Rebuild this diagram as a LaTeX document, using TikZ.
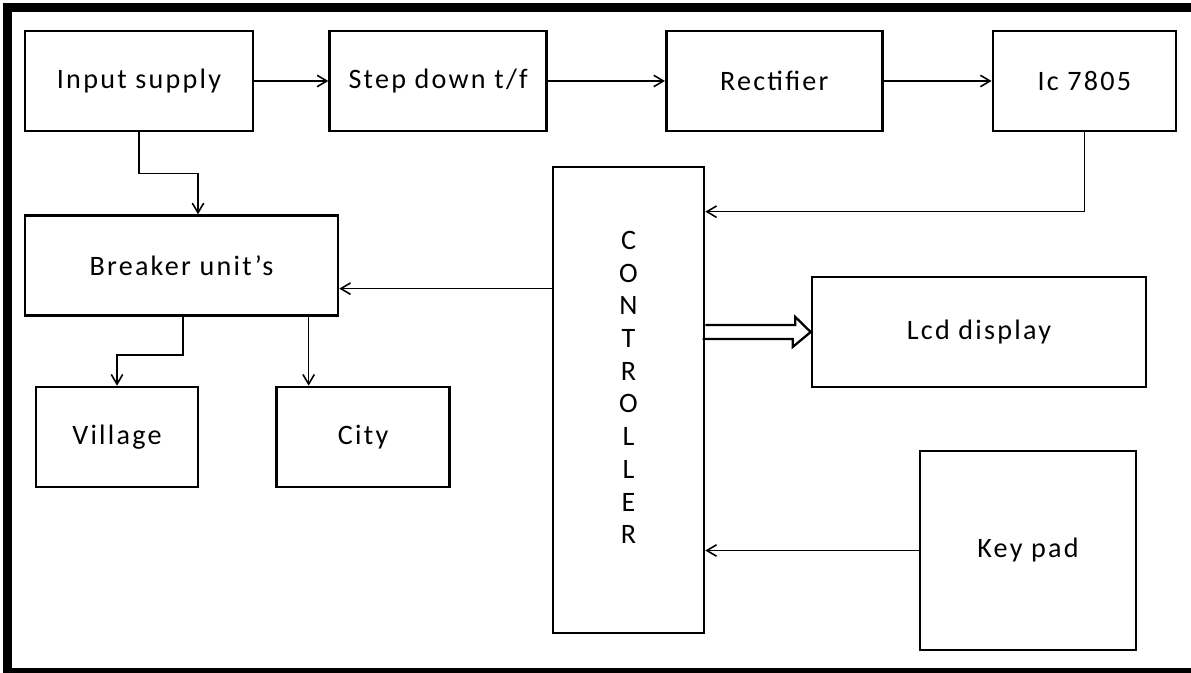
\documentclass[tikz,border=0pt]{standalone}
\usepackage{fontspec}
\usepackage{tikz}
\usetikzlibrary{arrows.meta}
\usetikzlibrary{positioning}

\newfontfamily\blkfont[LetterSpace=8]{Carlito}

\begin{document}
\begin{tikzpicture}[thin,node distance=1.5cm,
	  blk/.style={rectangle,draw,line width=1.5pt,fill=white,inner sep=0pt,minimum height=2cm,font=\blkfont\fontsize{16}{18.6}\selectfont},
	  arr/.style={-{Straight Barb[length=5.5pt,width=6.5pt]},line width=0.9pt},
	  dbl/.style={line width=1.3pt,line join=miter},
	  frame/.style={line width=0.18cm}]
	  \useasboundingbox (0,0) rectangle (23.82,-13.46);
	  \draw[frame] (23.9,-0.16) -- (0.15,-0.16) -- (0.15,-13.45) -- (23.9,-13.45);
%
	  \node[blk, minimum width=4.56cm] (inp) at (2.78,-1.62) {Input supply};
	  \node[blk, minimum width=4.34cm] (stp) [right=1.48cm of inp] {Step down t/f};
	  \node[blk, minimum width=4.32cm] (rct) [right=2.34cm of stp] {Rectifier};
	  \node[blk, minimum width=3.66cm] (ic) [right=2.16cm of rct] {Ic 7805};
	  \node[blk, minimum width=6.26cm] (brk) [below right=1.64cm and 0cm of inp.south west] {Breaker unit’s};
	  \node[blk, minimum width=3.24cm] (vil) at (2.34,-8.74) {Village};
	  \node[blk, minimum width=3.46cm] (cty) [right=1.52cm of vil] {City};
	  \node[blk, minimum width=3.02cm, minimum height=9.32cm] (ctrl) at (12.57,-8.0)
	    [label={[yshift=0.25cm,align=center,font=\blkfont\fontsize{16}{18.6}\selectfont]center:C\\O\\N\\T\\R\\O\\L\\L\\E\\R}] {};
	  \node[blk, minimum width=6.68cm, minimum height=2.2cm] (lcd) at (19.58,-6.64) {Lcd display};
	  \node[blk, minimum width=4.32cm, minimum height=3.98cm] (kpd) at (20.56,-11.01) {Key pad};
%
	  \coordinate (brkin) at ([yshift=-0.46cm]brk.east);
	  \coordinate (ctyin) at ([xshift=-1.09cm]cty.north);
	  \coordinate (lcdin) at (ctrl.east |- lcd.west);
%
	  \draw[arr] (inp) -- (stp);
	  \draw[arr] (stp) -- (rct);
	  \draw[arr] (rct) -- (ic);
	  \draw[arr] (ic.south) |- ([yshift=-0.92cm]ctrl.north east);
	  \draw[arr] (ctrl.west |- brkin) -- (brkin);
	  \draw[arr] (inp.south) -- ++(0,-0.82) -| ([xshift=0.33cm]brk.north);
	  \draw[arr] ([xshift=0.03cm]brk.south) -- ++(0,-0.76) -| (vil.north);
	  \draw[arr] (brk.south -| ctyin) -- (ctyin);
	  \draw[arr] (kpd.west) -- (kpd.west -| ctrl.east);
	  \draw[dbl] ([yshift=0.14cm]lcdin) -- ++(1.8,0) -- ++(0,0.16) -- (lcd.west)
	    -- ++(-0.36,-0.30) -- ++(0,0.16) -- ++(-1.8,0);
\end{tikzpicture}
\end{document}
